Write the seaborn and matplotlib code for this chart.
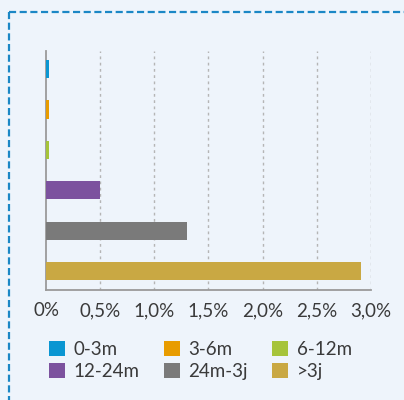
import numpy as np
import pandas as pd
import matplotlib
matplotlib.use('Agg')
import matplotlib.pyplot as plt
import seaborn as sns
from matplotlib.patches import Patch
from matplotlib.lines import Line2D

# data
categories = ['0-3m', '3-6m', '6-12m', '12-24m', '24m-3j', '>3j']
values = [0.03, 0.025, 0.025, 0.5, 1.3, 2.91]
colors = ['#0a96d2', '#e89c00', '#a6c43a', '#7c529e', '#7a7a7a', '#c9a843']
x_ticks = [0, 0.5, 1.0, 1.5, 2.0, 2.5, 3.0]
x_labels = ['0%', '0,5%', '1,0%', '1,5%', '2,0%', '2,5%', '3,0%']

df = pd.DataFrame({'groep': categories, 'waarde': values})

sns.set_style('white')
plt.rcParams['font.family'] = ['Lato', 'DejaVu Sans']

bg = '#eef4fb'
txt = '#3a3a3a'
fig = plt.figure(figsize=(4.04, 4.00), dpi=100, facecolor=bg)
ax = fig.add_axes([0.1139, 0.275, 0.804, 0.5975])
ax.set_facecolor(bg)

sns.barplot(data=df, x='waarde', y='groep', hue='groep', palette=colors,
            orient='h', width=0.45, legend=False, ax=ax, saturation=1,
            linewidth=0, zorder=4)

ax.set_xlim(0, 3.0)
ax.set_ylim(5.47, -0.45)
ax.set_xticks(x_ticks)
ax.set_xticklabels(x_labels, fontsize=13.5, color=txt)
ax.set_yticks([])
ax.set_xlabel('')
ax.set_ylabel('')
ax.tick_params(axis='x', length=0, pad=9)

for t in x_ticks[1:]:
    ax.axvline(t, color='#b5b5b5', lw=1.0, ls=(0, (2, 2.5)), zorder=0)

for s in ['top', 'right']:
    ax.spines[s].set_visible(False)
for s in ['left', 'bottom']:
    ax.spines[s].set_color('#9a9a9a')
    ax.spines[s].set_linewidth(1.3)
    ax.spines[s].set_zorder(2)

# legend, row-wise order
handles = [Patch(facecolor=c, edgecolor='none') for c in colors]
order = [0, 3, 1, 4, 2, 5]
fig.legend([handles[i] for i in order], [categories[i] for i in order],
           ncol=3, loc='upper left', bbox_to_anchor=(0.122, 0.148),
           frameon=False, fontsize=13.5, handlelength=0.85, handleheight=0.85,
           handletextpad=0.45, columnspacing=1.3, labelspacing=0.26,
           borderaxespad=0, borderpad=0, labelcolor=txt)

# dashed frame
frame_kw = dict(color='#1b87c5', lw=1.6, ls=(0, (3.2, 1.6)), transform=fig.transFigure)
fig.add_artist(Line2D([9 / 404, 9 / 404], [1 - 12 / 400, 0], **frame_kw))
fig.add_artist(Line2D([9 / 404, 1], [1 - 12 / 400, 1 - 12 / 400], **frame_kw))

fig.savefig('out.png', dpi=100, facecolor=bg)
